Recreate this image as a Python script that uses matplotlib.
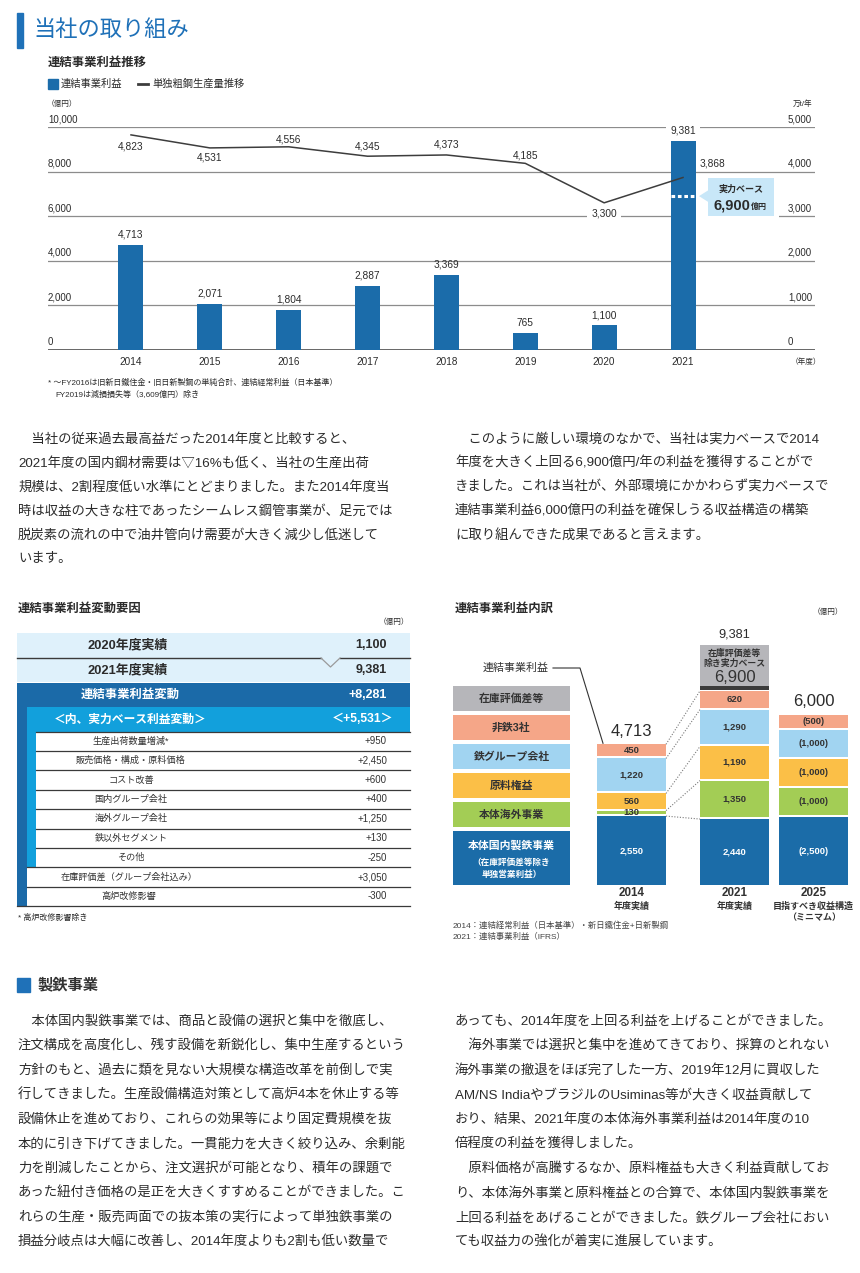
import matplotlib
matplotlib.use('Agg')
import matplotlib.pyplot as plt
from matplotlib.patches import Rectangle, Polygon
from matplotlib.transforms import blended_transform_factory

plt.rcParams['font.family'] = ['Liberation Sans', 'Noto Sans CJK JP', 'DejaVu Sans']

# ---------------- data ----------------
years = [2014, 2015, 2016, 2017, 2018, 2019, 2020, 2021]
profit = [4713, 2071, 1804, 2887, 3369, 765, 1100, 9381]
steel_output = [4823, 4531, 4556, 4345, 4373, 4185, 3300, 3868]
base_profit_2021 = 6900
left_ticks = [0, 2000, 4000, 6000, 8000, 10000]
right_ticks = [0, 1000, 2000, 3000, 4000, 5000]

summary_labels = ['2020年度実績', '2021年度実績']
summary_values = [1100, 9381]
change_label = '連結事業利益変動'
change_value = 8281
base_change_label = '＜内、実力ベース利益変動＞'
base_change_value = 5531
factor_labels = ['生産出荷数量増減*', '販売価格・構成・原料価格', 'コスト改善', '国内グループ会社',
                 '海外グループ会社', '鉄以外セグメント', 'その他']
factor_values = [950, 2450, 600, 400, 1250, 130, -250]
other_labels = ['在庫評価差（グループ会社込み）', '高炉改修影響']
other_values = [3050, -300]

stack_years = ['2014', '2021', '2025']
stack_sub = [['年度実績'], ['年度実績'], ['目指すべき収益構造', '（ミニマム）']]
stack_totals = [4713, 9381, 6000]
domestic = [2550, 2440, 2500]
overseas = [130, 1350, 1000]
raw_material = [560, 1190, 1000]
group_cos = [1220, 1290, 1000]
nonferrous = [450, 620, 500]
legend_names = ['在庫評価差等', '非鉄3社', '鉄グループ会社', '原料権益', '本体海外事業', '本体国内製鉄事業']

para1 = ['　当社の従来過去最高益だった2014年度と比較すると、',
         '2021年度の国内鋼材需要は▽16%も低く、当社の生産出荷',
         '規模は、2割程度低い水準にとどまりました。また2014年度当',
         '時は収益の大きな柱であったシームレス鋼管事業が、足元では',
         '脱炭素の流れの中で油井管向け需要が大きく減少し低迷して',
         'います。']
para2 = ['　このように厳しい環境のなかで、当社は実力ベースで2014',
         '年度を大きく上回る6,900億円/年の利益を獲得することがで',
         'きました。これは当社が、外部環境にかかわらず実力ベースで',
         '連結事業利益6,000億円の利益を確保しうる収益構造の構築',
         'に取り組んできた成果であると言えます。']
para3 = ['　本体国内製鉄事業では、商品と設備の選択と集中を徹底し、',
         '注文構成を高度化し、残す設備を新鋭化し、集中生産するという',
         '方針のもと、過去に類を見ない大規模な構造改革を前倒しで実',
         '行してきました。生産設備構造対策として高炉4本を休止する等',
         '設備休止を進めており、これらの効果等により固定費規模を抜',
         '本的に引き下げてきました。一貫能力を大きく絞り込み、余剰能',
         '力を削減したことから、注文選択が可能となり、積年の課題で',
         'あった紐付き価格の是正を大きくすすめることができました。こ',
         'れらの生産・販売両面での抜本策の実行によって単独鉄事業の',
         '損益分岐点は大幅に改善し、2014年度よりも2割も低い数量で']
para4 = ['あっても、2014年度を上回る利益を上げることができました。',
         '　海外事業では選択と集中を進めてきており、採算のとれない',
         '海外事業の撤退をほぼ完了した一方、2019年12月に買収した',
         'AM/NS IndiaやブラジルのUsiminas等が大きく収益貢献して',
         'おり、結果、2021年度の本体海外事業利益は2014年度の10',
         '倍程度の利益を獲得しました。',
         '　原料価格が高騰するなか、原料権益も大きく利益貢献してお',
         'り、本体海外事業と原料権益との合算で、本体国内製鉄事業を',
         '上回る利益をあげることができました。鉄グループ会社におい',
         'ても収益力の強化が着実に進展しています。']

# ---------------- style ----------------
BLUE = '#1b6caa'
TITLE_BLUE = '#1f71b8'
TXT = '#2b2b2b'
GRID = '#8c8c8c'
LINE = '#3d3d3d'
CALLOUT = '#c8e7f8'
LIGHT_ROW = '#dff1fb'
ROW_DARK = '#1b6aa8'
ROW_CYAN = '#12a0dc'
SEG_COLORS = ['#1b6ca8', '#a3cd55', '#fbbf47', '#a1d4f1', '#f5a688']
LEG_COLORS = ['#b6b6ba', '#f5a688', '#a1d4f1', '#fbbf47', '#a3cd55', '#1b6ca8']

W, H = 860, 1273
DPI = 100
fig = plt.figure(figsize=(W / DPI, H / DPI), dpi=DPI)
fig.patch.set_facecolor('white')


def box(x0, y0, x1, y1):
    return [x0 / W, 1 - y1 / H, (x1 - x0) / W, (y1 - y0) / H]


ov = fig.add_axes([0, 0, 1, 1])
ov.set_xlim(0, W)
ov.set_ylim(H, 0)
ov.axis('off')


def px(axis, x, y):
    dx, dy = axis.transData.transform((x, y))
    return dx, H - dy


def T(x, y, s, size, color=TXT, ha='left', va='center', weight='normal', **kw):
    return ov.text(x, y, s, fontsize=size, color=color, ha=ha, va=va, fontweight=weight, **kw)


# ---------------- page title ----------------
ov.add_patch(Rectangle((17, 13), 6, 35, color=TITLE_BLUE))
T(33, 31, '当社の取り組み', 16, color=TITLE_BLUE)

# ---------------- top chart ----------------
T(48, 63, '連結事業利益推移', 8.9, weight='bold')
ov.add_patch(Rectangle((48, 79), 10, 10, color=BLUE))
T(61, 84, '連結事業利益', 7.4)
ov.plot([138, 148], [84, 84], color=LINE, lw=2)
T(152, 84, '単独粗鋼生産量推移', 7.4)
T(47, 104, '（億円）', 5.5, ha='left')
T(793, 104, '万t/年', 5.5)
T(806, 362, '（年度）', 5.5, ha='center')

ax = fig.add_axes(box(48, 127, 815, 350))
ax.set_facecolor('none')
step = 78.86
ax.set_xlim(years[0] - 83 / step, years[-1] + 132 / step)
ax.set_ylim(left_ticks[0], left_ticks[-1])
ax.axis('off')
bar_w = 25 / step
for v in left_ticks[1:]:
    ax.axhline(v, color=GRID, lw=0.9, zorder=1)
ax.axhline(0, color='#4d4d4d', lw=1.2, zorder=1)
ax.bar(years, profit, width=bar_w, color=BLUE, zorder=2)
yl = blended_transform_factory(ax.transAxes, ax.transData)
for v in left_ticks:
    ax.annotate(f'{v:,}', xy=(0, v), xycoords=yl, xytext=(0, 8), textcoords='offset pixels',
                ha='left', va='center', fontsize=7, color=TXT)
for yr, v in zip(years, profit):
    ax.annotate(f'{v:,}', xy=(yr, v), xytext=(0, 10), textcoords='offset pixels',
                ha='center', va='center', fontsize=7.3, color=TXT, zorder=4,
                bbox=dict(fc='white', ec='none', pad=3) if yr == years[-1] else None)
    ax.annotate(str(yr), xy=(yr, 0), xytext=(0, -12), textcoords='offset pixels',
                ha='center', va='center', fontsize=7.2, color=TXT)
ax.hlines(base_profit_2021, years[-1] - bar_w / 2, years[-1] + bar_w / 2, colors='white',
          lw=2.2, linestyles=(0, (1.2, 0.9)), zorder=3)

ax2 = ax.twinx()
ax2.set_ylim(right_ticks[0], right_ticks[-1])
ax2.axis('off')
ax2.set_facecolor('none')
ax2.plot(years, steel_output, color=LINE, lw=1.1, zorder=3)
yr2 = blended_transform_factory(ax2.transAxes, ax2.transData)
for v in right_ticks:
    ax2.annotate(f'{v:,}', xy=(1, v), xycoords=yr2, xytext=(-27, 8), textcoords='offset pixels',
                 ha='left', va='center', fontsize=7, color=TXT)
line_offsets = [(0, -12), (0, -10), (0, 7), (0, 10), (0, 10), (0, 8), (0, -11), (29, 14)]
for yr, v, off in zip(years, steel_output, line_offsets):
    ax2.annotate(f'{v:,}', xy=(yr, v), xytext=off, textcoords='offset pixels',
                 ha='center', va='center', fontsize=7.3, color=TXT, zorder=4,
                 bbox=dict(fc='white', ec='none', pad=3) if yr == 2020 else None)

cx, cy = px(ax, years[-1], base_profit_2021)
ax2.add_patch(Rectangle((cx + 13, cy - 22), 83, 44, fc='white', ec='none',
                        transform=ov.transData, zorder=5, clip_on=False))
ax2.add_patch(Rectangle((cx + 25, cy - 18), 66, 38, fc=CALLOUT, ec='none',
                        transform=ov.transData, zorder=6, clip_on=False))
ax2.add_patch(Polygon([(cx + 16, cy), (cx + 25.5, cy - 6), (cx + 25.5, cy + 6)], closed=True,
                      fc=CALLOUT, ec='none', transform=ov.transData, zorder=6, clip_on=False))
ax2.text(cx + 58, cy - 7, '実力ベース', transform=ov.transData, fontsize=6.5, fontweight='bold',
         ha='center', va='center', color=TXT, zorder=7)
ax2.text(cx + 67, cy + 9, f'{base_profit_2021:,}', transform=ov.transData, fontsize=10.5,
         fontweight='bold', ha='right', va='center', color=TXT, zorder=7)
ax2.text(cx + 67.5, cy + 11, '億円', transform=ov.transData, fontsize=5.8, fontweight='bold',
         ha='left', va='center', color=TXT, zorder=7)

T(48, 383, '* ～FY2016は旧新日鐵住金・旧日新製鋼の単純合計、連結経常利益（日本基準）', 5.8)
T(55, 395, 'FY2019は減損損失等（3,609億円）除き', 5.8)


# ---------------- paragraphs ----------------
def para(x, y0, lines, stp, size=9.6):
    for i, line in enumerate(lines):
        T(x, y0 + i * stp, line, size)


para(18, 439, para1, 24)
para(455, 439, para2, 24)

# ---------------- table ----------------
T(18, 609, '連結事業利益変動要因', 8.9, weight='bold')
T(409, 622, '（億円）', 5.5, ha='right')
TX0, TX1, IN1, IN2 = 17, 410, 27, 36
LBLX, VALX = 130, 387
row_tops = [633, 658]
row_h = [25, 24]
for lab, val, yt, hh in zip(summary_labels, summary_values, row_tops, row_h):
    ov.add_patch(Rectangle((TX0, yt), TX1 - TX0, hh, fc=LIGHT_ROW, ec='none'))
    T(LBLX - 2, yt + hh / 2, lab, 9.3, ha='center', weight='bold')
    T(VALX, yt + hh / 2, f'{val:,}', 9.0, ha='right', weight='bold')
ov.plot([TX0, 321], [658, 658], color='#3a3a3a', lw=1.0)
ov.plot([340, TX1], [658, 658], color='#3a3a3a', lw=1.0)
ov.plot([321, 330.5, 340], [658, 667, 658], color='#9a9a9a', lw=0.9)

ov.add_patch(Rectangle((TX0, 683), TX1 - TX0, 24, fc=ROW_DARK, ec='none'))
T(LBLX, 695, change_label, 8.9, color='white', ha='center', weight='bold')
T(VALX, 695, f'{change_value:+,}', 9.0, color='white', ha='right', weight='bold')
ov.add_patch(Rectangle((IN1, 707), TX1 - IN1, 24.5, fc=ROW_CYAN, ec='none'))
T(LBLX, 719.5, base_change_label, 8.5, color='white', ha='center', weight='bold')
T(VALX + 7, 719.5, f'＜{base_change_value:+,}＞', 8.7, color='white', ha='right', weight='bold')
RH = 19.4
y_det0 = 731.5
n_det = len(factor_labels)
ov.add_patch(Rectangle((TX0, 707), IN1 - TX0, y_det0 + (n_det + len(other_labels)) * RH - 707,
                       fc=ROW_DARK, ec='none'))
ov.add_patch(Rectangle((IN1, y_det0), IN2 - IN1, n_det * RH, fc=ROW_CYAN, ec='none'))
ov.plot([IN2, TX1], [y_det0, y_det0], color='#3a3a3a', lw=0.9)
for i, (lab, val) in enumerate(zip(factor_labels, factor_values)):
    yt = y_det0 + i * RH
    T(LBLX + 1, yt + RH / 2, lab, 6.6, ha='center', color='#333333')
    T(VALX, yt + RH / 2, f'{val:+,}', 7.0, ha='right', color='#333333')
    x_start = IN2 if i < n_det - 1 else IN1
    ov.plot([x_start, TX1], [yt + RH, yt + RH], color='#3a3a3a', lw=0.9)
for j, (lab, val) in enumerate(zip(other_labels, other_values)):
    yt = y_det0 + (n_det + j) * RH
    T(LBLX - 1, yt + RH / 2, lab, 6.6, ha='center', color='#333333')
    T(VALX, yt + RH / 2, f'{val:+,}', 7.0, ha='right', color='#333333')
    x_start = IN1 if j < len(other_labels) - 1 else TX0
    ov.plot([x_start, TX1], [yt + RH, yt + RH], color='#3a3a3a', lw=0.9)
T(18, 918, '* 高炉改修影響除き', 5.8)

# ---------------- stacked chart ----------------
T(455, 609, '連結事業利益内訳', 8.9, weight='bold')
T(843, 612, '（億円）', 5.5, ha='right')

UNIT = 37.0  # data units per pixel
GAP = 2 * UNIT
sx = fig.add_axes(box(580, 600, 860, 885))
sx.set_facecolor('none')
sx.axis('off')
sx.set_ylim(0, 285 * UNIT)
pos = [0, 1, 1.767]
bw = 0.67
sx.set_xlim(-0.5, 2.218)

series = [domestic, overseas, raw_material, group_cos, nonferrous]
bottoms = [0.0, 0.0, 0.0]
tops = []
for k, vals in enumerate(series):
    sx.bar(pos, vals, width=bw, bottom=bottoms, color=SEG_COLORS[k], zorder=2)
    for i, (p, b, v) in enumerate(zip(pos, bottoms, vals)):
        lab = f'({v:,})' if i == 2 else f'{v:,}'
        col = 'white' if k == 0 else '#333333'
        sx.text(p, b + v / 2, lab, ha='center', va='center', fontsize=6.8, color=col,
                fontweight='bold', zorder=4)
    tops.append([b + v for b, v in zip(bottoms, vals)])
    bottoms = [b + v + GAP for b, v in zip(bottoms, vals)]

# 2021: separator band and inventory-valuation box (compressed)
band_b = tops[-1][1] + 0.8 * UNIT
band_h = 3.5 * UNIT
sx.bar(pos[1], band_h, bottom=band_b, width=bw, color='#3b3b3b', zorder=2)
inv_b = band_b + band_h + 0.6 * UNIT
inv_h = (stack_totals[1] - base_profit_2021) * 0.61
sx.bar(pos[1], inv_h, bottom=inv_b, width=bw, color=LEG_COLORS[0], zorder=2)
gx, gtop = px(sx, pos[1], inv_b + inv_h)
for dy, s, fs, wt in [(8.5, '在庫評価差等', 6.4, 'bold'), (18.5, '除き実力ベース', 6.4, 'bold'),
                      (33, f'{base_profit_2021:,}', 12, 'normal')]:
    sx.text(gx, gtop + dy, s, transform=ov.transData, fontsize=fs, fontweight=wt,
            ha='center', va='center', color='#333333', zorder=5)

# totals
for i in range(3):
    if i == 1:
        sx.annotate(f'{stack_totals[i]:,}', xy=(pos[i], inv_b + inv_h), xytext=(0, 10),
                    textcoords='offset pixels', ha='center', va='center', fontsize=9.2, color=TXT)
    else:
        sx.annotate(f'{stack_totals[i]:,}', xy=(pos[i], tops[-1][i]), xytext=(0, 13),
                    textcoords='offset pixels', ha='center', va='center', fontsize=12, color=TXT)

# dotted connectors 2014 -> 2021
for k in range(len(series)):
    sx.plot([pos[0] + bw / 2, pos[1] - bw / 2], [tops[k][0], tops[k][1]], ls=(0, (1, 1.5)),
            color='#7a7a7a', lw=0.8, zorder=1)

# x labels
for i in range(3):
    xx, _ = px(sx, pos[i], 0)
    T(xx, 893, stack_years[i], 8.4, ha='center', weight='bold', color='#333333')
    for j, s in enumerate(stack_sub[i]):
        T(xx, 906.5 + j * 11.5, s, 6.5, ha='center', weight='bold', color='#333333')

# legend boxes
leg_tops = [686, 715, 744, 773, 802, 831]
leg_h = [25, 25, 25, 25, 25, 54]
for name, col, yt, hh in zip(legend_names, LEG_COLORS, leg_tops, leg_h):
    ov.add_patch(Rectangle((453, yt), 117, hh, fc=col, ec='none'))
    if hh > 30:
        T(511.5, yt + 14, name, 7.8, ha='center', weight='bold', color='white')
        T(511.5, yt + 31, '（在庫評価差等除き', 6.2, ha='center', weight='bold', color='white')
        T(511.5, yt + 43, '単独営業利益）', 6.2, ha='center', weight='bold', color='white')
    else:
        T(511.5, yt + hh / 2, name, 7.8, ha='center', weight='bold', color='#333333')

T(549, 668, '連結事業利益', 7.9, ha='right', color='#333333')
lx0, ly0 = px(sx, pos[0] - bw / 2, tops[-1][0])
ov.plot([553, 580, lx0 + 6, ], [668, 668, ly0 - 1], color='#333333', lw=0.8)

T(453, 926, '2014：連結経常利益（日本基準）・新日鐵住金+日新製鋼', 6.0, color='#444444')
T(453, 937, '2021：連結事業利益（IFRS）', 6.0, color='#444444')

# ---------------- bottom section ----------------
ov.add_patch(Rectangle((17, 978), 13, 14, color=TITLE_BLUE))
T(37, 985, '製鉄事業', 11, weight='bold', color='#333333')
para(18, 1021, para3, 24.6)
para(455, 1021, para4, 24.6)

fig.savefig('out.png', dpi=DPI, facecolor='white')
